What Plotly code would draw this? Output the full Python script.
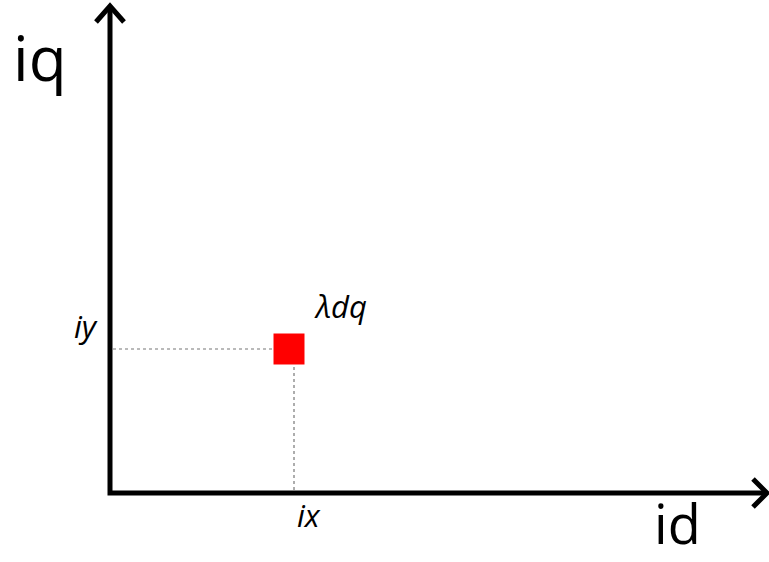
import plotly.graph_objects as go

# Conceptual diagram values (axis units, origin at axis intersection)
point_label = "λdq"
ix = 184
iy = 144
x_axis_label = "id"
y_axis_label = "iq"
x_tick_label = "ix"
y_tick_label = "iy"
x_axis_len = 657
y_axis_len = 487

W, H = 769, 562
x_min = -110
y_min = -69

fig = go.Figure()

axis_style = dict(color="black", width=5)

# axes
fig.add_trace(go.Scatter(x=[0, 0, x_axis_len], y=[y_axis_len, 0, 0], mode="lines",
                         line=axis_style, hoverinfo="skip"))
# arrowheads (open chevrons)
ah = 14
fig.add_trace(go.Scatter(x=[-ah, 0, ah], y=[y_axis_len - 16, y_axis_len, y_axis_len - 16],
                         mode="lines", line=axis_style, hoverinfo="skip"))
fig.add_trace(go.Scatter(x=[x_axis_len - 14, x_axis_len, x_axis_len - 14], y=[ah, 0, -ah],
                         mode="lines", line=axis_style, hoverinfo="skip"))

# dotted guide lines
guide = dict(color="#777777", width=1.2, dash="dot")
fig.add_trace(go.Scatter(x=[3, ix], y=[iy, iy], mode="lines", line=guide, hoverinfo="skip"))
fig.add_trace(go.Scatter(x=[ix, ix], y=[iy, 3], mode="lines", line=guide, hoverinfo="skip"))

# the point
fig.add_trace(go.Scatter(x=[ix - 5], y=[iy], mode="markers",
                         marker=dict(symbol="square", size=31, color="#ff0000",
                                     line=dict(width=0)),
                         hoverinfo="skip"))

font_iq = dict(family="Open Sans", size=62, color="black")
font_id = dict(family="Open Sans", size=54, color="black")
font_small = dict(family="Open Sans", size=31, color="black")

ann = [
    dict(x=-70, y=436, text=y_axis_label, font=font_iq),
    dict(x=567, y=-30, text=x_axis_label, font=font_id),
    dict(x=-24, y=iy + 23, text="<i>" + y_tick_label + "</i>", font=font_small),
    dict(x=ix + 15, y=-22, text="<i>" + x_tick_label + "</i>", font=font_small),
    dict(x=ix + 46, y=iy + 43, text="<i>" + point_label + "</i>", font=font_small),
]
for a in ann:
    fig.add_annotation(showarrow=False, xref="x", yref="y", xanchor="center", yanchor="middle", **a)

fig.update_layout(
    width=W, height=H,
    margin=dict(l=0, r=0, t=0, b=0),
    paper_bgcolor="white", plot_bgcolor="white",
    showlegend=False,
    xaxis=dict(range=[x_min, x_min + W], visible=False, fixedrange=True),
    yaxis=dict(range=[y_min, y_min + H], visible=False, fixedrange=True),
)

fig.write_html("out.html")
